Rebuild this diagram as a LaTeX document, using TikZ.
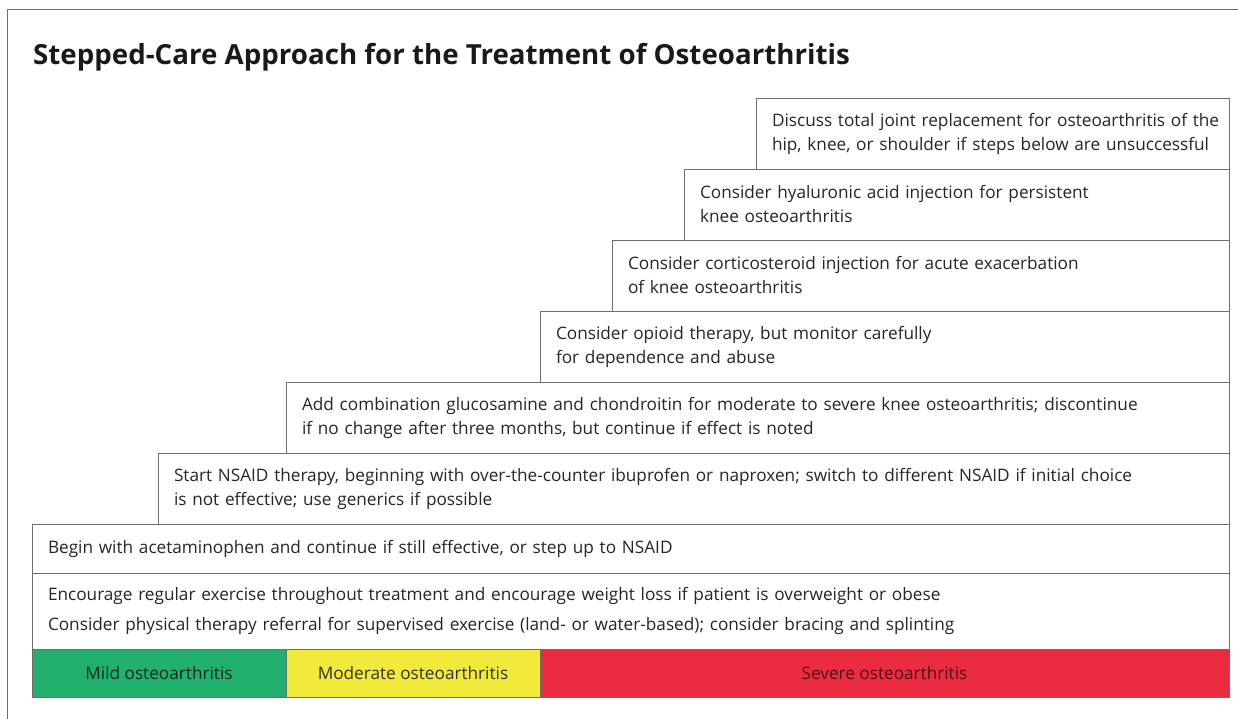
\documentclass[tikz,border=0pt]{standalone}
\usepackage{fontspec}
\setmainfont{Open Sans}
\usetikzlibrary{positioning}
\definecolor{mildgreen}{RGB}{34,176,110}
\definecolor{modyellow}{RGB}{242,234,58}
\definecolor{sevred}{RGB}{235,44,64}
\definecolor{framegray}{RGB}{110,110,110}
\tikzset{
  stepbox/.style={
    draw=framegray,
    fill=white,
    line width=0.9pt,
    align=left,
    inner xsep=16pt,
    inner ysep=0pt,
    outer sep=0pt,
    minimum height=71pt,
    text=black!85,
    font=\fontsize{17.2}{24}\selectfont
  },
  levelbox/.style={
    draw=framegray,
    line width=0.9pt,
    inner sep=0pt,
    outer sep=0pt,
    minimum height=48pt,
    font=\fontsize{17.2}{20}\selectfont
  }
}

\begin{document}
\begin{tikzpicture}[x=1pt,y=-1pt,node distance=0pt]
    \useasboundingbox (0,0) rectangle (1238,719);
    \draw[framegray, line width=1pt] (7,719) -- (7,10) -- (1238,10);
    \node[anchor=base west, font=\fontsize{27.7}{32}\selectfont\bfseries, text=black!90, inner sep=0pt] (title) at (33,65)
        {Stepped-Care Approach for the Treatment of Osteoarthritis};
    % steps, from the bottom up
    \node[stepbox, text width=1165pt, minimum height=76pt, anchor=north west] (b0) at (32,573)
        {Encourage regular exercise throughout treatment and encourage weight loss if patient is overweight or obese\\[6pt]
         Consider physical therapy referral for supervised exercise (land- or water-based); consider bracing and splinting};
    \node[stepbox, text width=1165pt, minimum height=49pt] (b1) [above left=of b0.north east]
        {Begin with acetaminophen and continue if still effective, or step up to NSAID};
    \node[stepbox, text width=1039pt] (b2) [above left=of b1.north east]
        {Start NSAID therapy, beginning with over-the-counter ibuprofen or naproxen; switch to different NSAID if initial choice\\
         is not effective; use generics if possible};
    \node[stepbox, text width=911pt] (b3) [above left=of b2.north east]
        {Add combination glucosamine and chondroitin for moderate to severe knee osteoarthritis; discontinue\\
         if no change after three months, but continue if effect is noted};
    \node[stepbox, text width=657pt] (b4) [above left=of b3.north east]
        {Consider opioid therapy, but monitor carefully\\
         for dependence and abuse};
    \node[stepbox, text width=585pt] (b5) [above left=of b4.north east]
        {Consider corticosteroid injection for acute exacerbation\\
         of knee osteoarthritis};
    \node[stepbox, text width=513pt] (b6) [above left=of b5.north east]
        {Consider hyaluronic acid injection for persistent\\
         knee osteoarthritis};
    \node[stepbox, text width=441pt] (b7) [above left=of b6.north east]
        {\mbox{Discuss total joint replacement for osteoarthritis of the}\\
         \mbox{hip, knee, or shoulder if steps below are unsuccessful}};
    % severity bar
    \node[levelbox, fill=mildgreen, minimum width=254pt, text=mildgreen!25!black] (mild) [below right=of b0.south west]
        {Mild osteoarthritis};
    \node[levelbox, fill=modyellow, minimum width=254pt, text=black!80] (moderate) [right=of mild]
        {Moderate osteoarthritis};
    \node[levelbox, fill=sevred, minimum width=689pt, text=sevred!35!black] (severe) [right=of moderate]
        {Severe osteoarthritis};
\end{tikzpicture}
\end{document}
